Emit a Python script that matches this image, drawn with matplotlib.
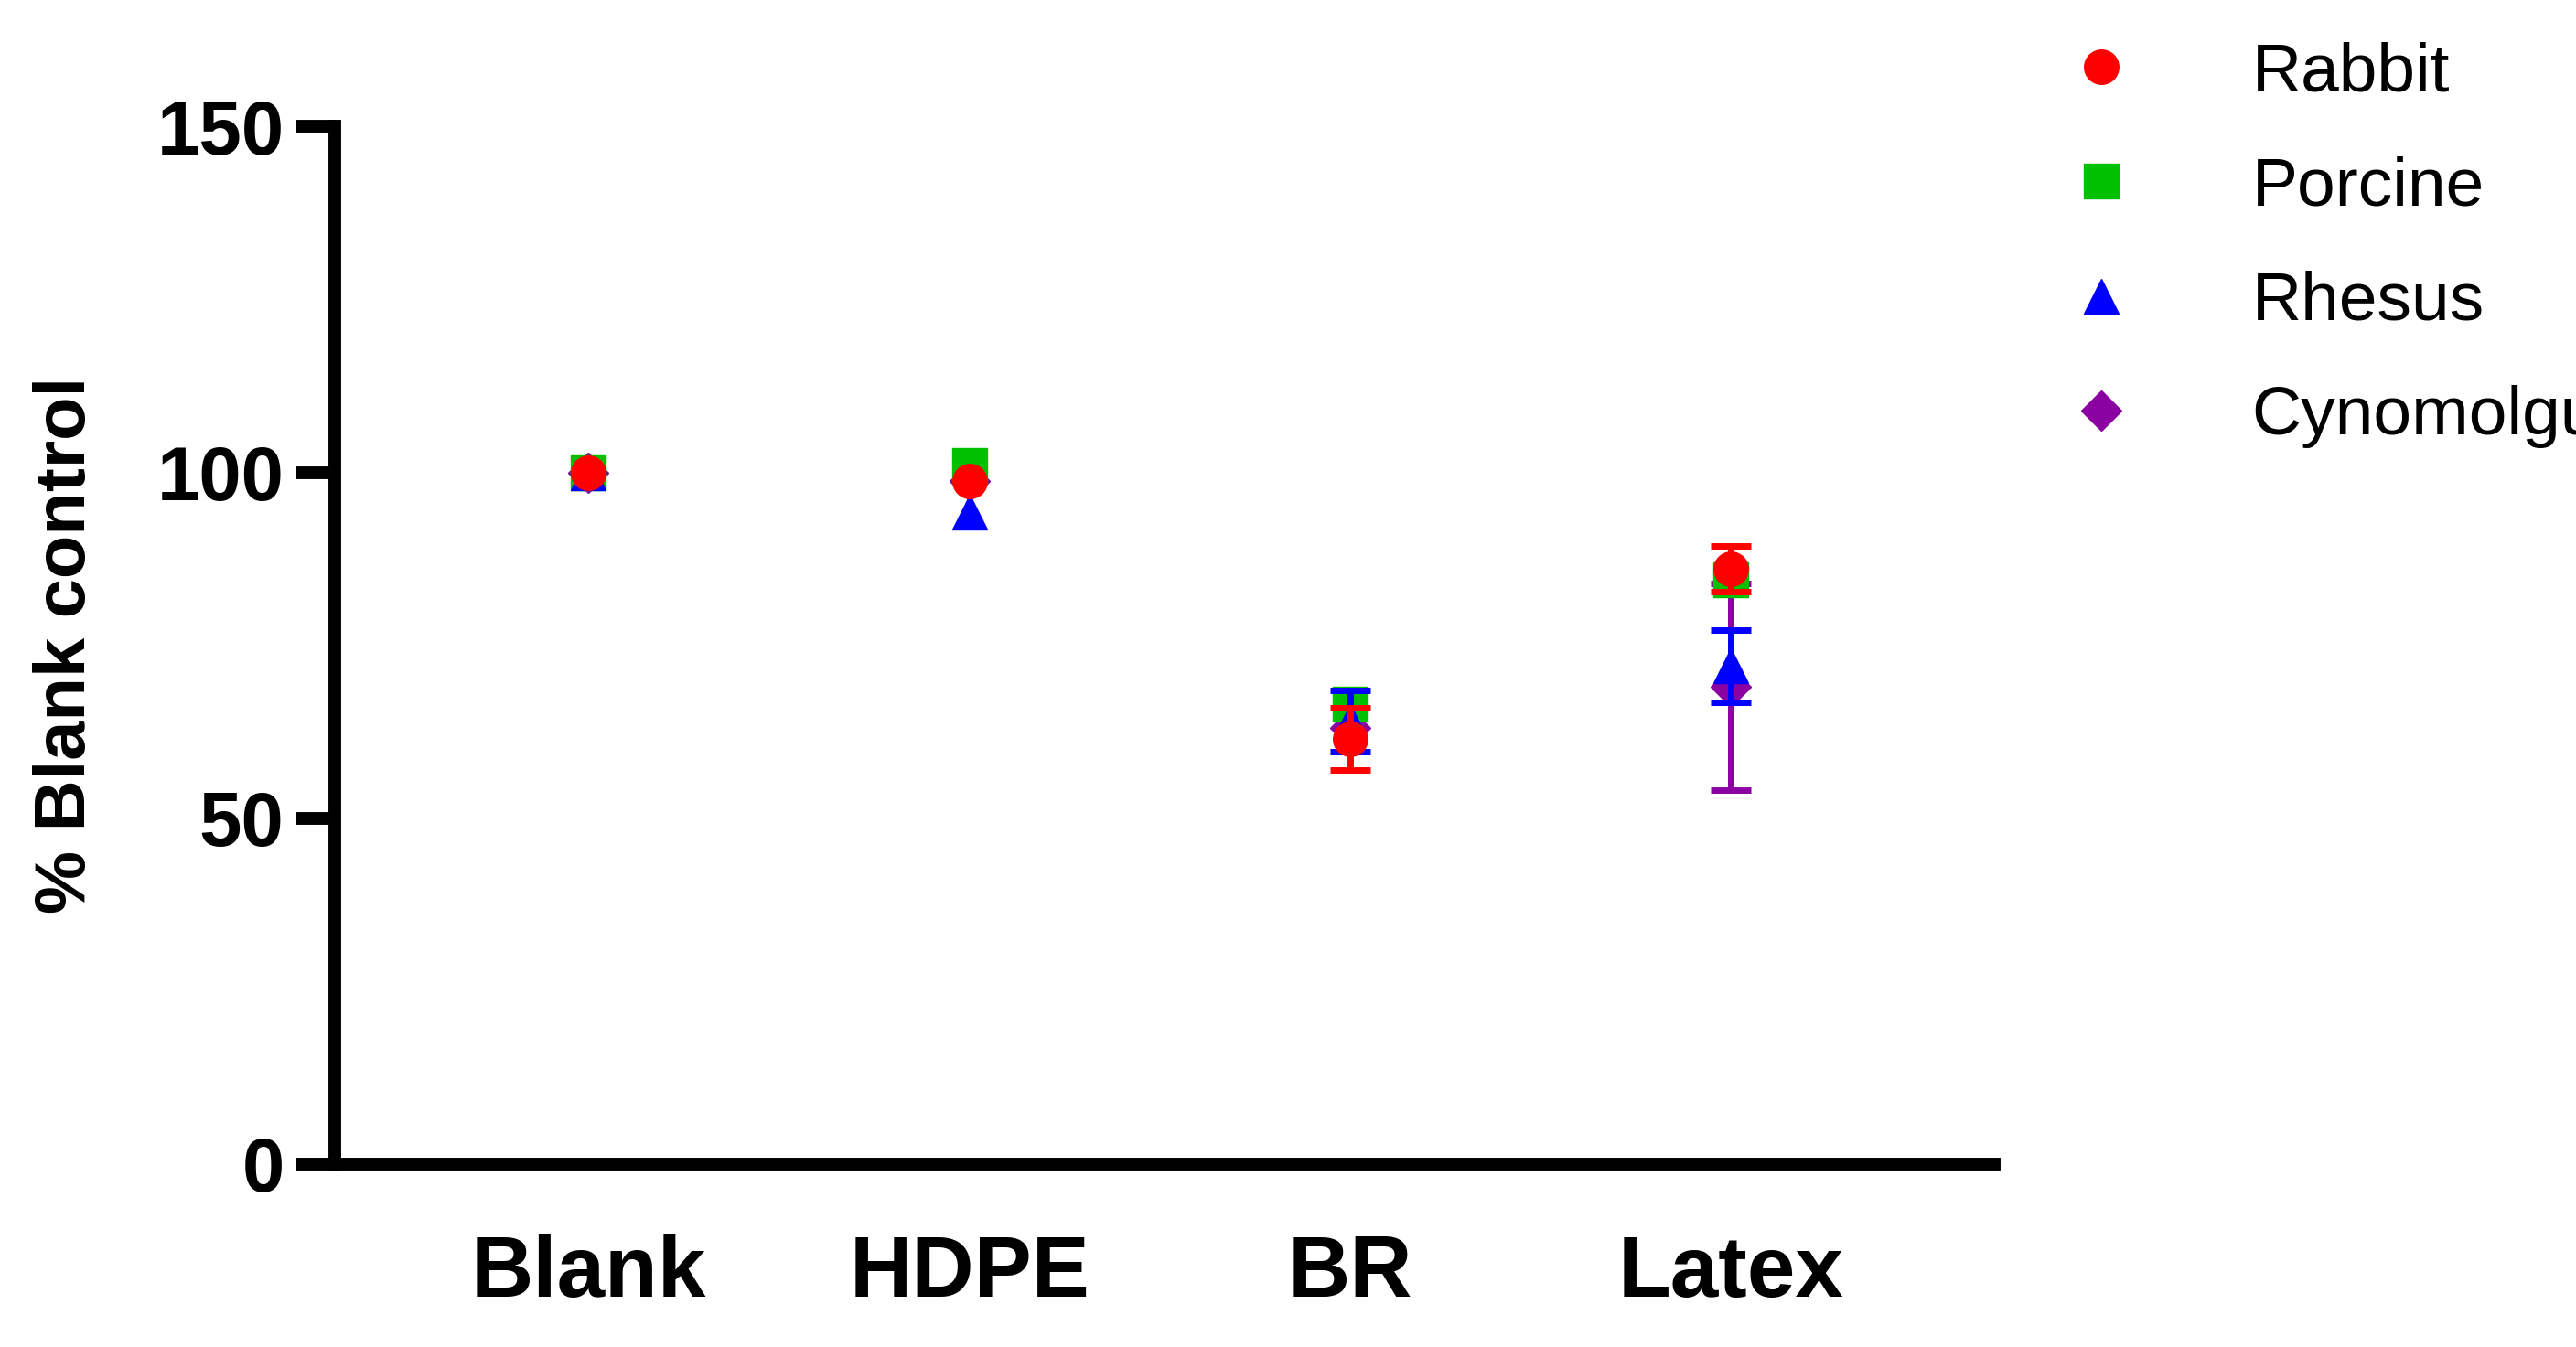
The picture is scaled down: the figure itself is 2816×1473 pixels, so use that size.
import numpy as np
import matplotlib.pyplot as plt

CATEGORIES = ['Blank', 'HDPE', 'BR', 'Latex']
SPECIES = ['Rabbit', 'Porcine', 'Rhesus', 'Cynomolgus']
COLORS = {'Rabbit': '#ff0000', 'Porcine': '#00c000', 'Rhesus': '#0000ff', 'Cynomolgus': '#8b00a0'}
MARKERS = {'Rabbit': 'o', 'Porcine': 's', 'Rhesus': '^', 'Cynomolgus': 'D'}

rabbit_mean = [100, 98.7, 61.5, 86]
rabbit_err = [0, 0, 4.5, 3.3]
porcine_mean = [100, 101, 66.5, 84.4]
porcine_err = [0, 0, 0, 0]
rhesus_mean = [100, 94.3, 64, 72]
rhesus_err = [0, 0, 4.4, 5.2]
cyno_mean = [100, 98.7, 63, 69]
cyno_err = [0, 0, 0, 15]

series = {
    'Rabbit': (rabbit_mean, rabbit_err),
    'Porcine': (porcine_mean, porcine_err),
    'Rhesus': (rhesus_mean, rhesus_err),
    'Cynomolgus': (cyno_mean, cyno_err),
}

plt.rcParams['font.family'] = ['Arial', 'Liberation Sans', 'DejaVu Sans']

fig = plt.figure(figsize=(28.16, 14.73), dpi=100)
ax = fig.add_axes([0.130, 0.136, 0.644, 0.770])
x = np.arange(len(CATEGORIES))

handles = {}
for z, name in enumerate(['Cynomolgus', 'Porcine', 'Rhesus', 'Rabbit']):
    mean, err = series[name]
    err = np.array(err, dtype=float)
    yerr = np.where(err > 0, err, np.nan)
    ax.errorbar(x, mean, yerr=yerr, fmt='none', ecolor=COLORS[name],
                elinewidth=5, capsize=16, capthick=5, zorder=2 + z)
    ms = 22 if MARKERS[name] == 'D' else 27
    h, = ax.plot(x, mean, linestyle='none', marker=MARKERS[name], markersize=ms,
                 color=COLORS[name], zorder=2 + z)
    handles[name] = h

ax.set_xlim(-0.666, 3.69)
ax.set_ylim(0, 150)
ax.set_yticks([0, 50, 100, 150])
ax.set_xticks(x)
ax.set_xticklabels(CATEGORIES, fontsize=68, fontweight='bold')
for lab in ax.get_yticklabels():
    lab.set_fontsize(60)
    lab.set_fontweight('bold')
ax.tick_params(axis='x', length=0, pad=55)
ax.tick_params(axis='y', length=30, width=10, pad=10)
ax.set_ylabel('% Blank control', fontsize=56, fontweight='bold', labelpad=45)
for side in ['top', 'right']:
    ax.spines[side].set_visible(False)
for side in ['left', 'bottom']:
    ax.spines[side].set_linewidth(10)

leg = fig.legend([handles[s] for s in SPECIES], SPECIES, loc='upper left',
                 bbox_to_anchor=(0.765, 1.015), frameon=False, fontsize=54,
                 handletextpad=1.2, labelspacing=0.75, markerscale=1.0)

fig.savefig('out.png', dpi=100)
